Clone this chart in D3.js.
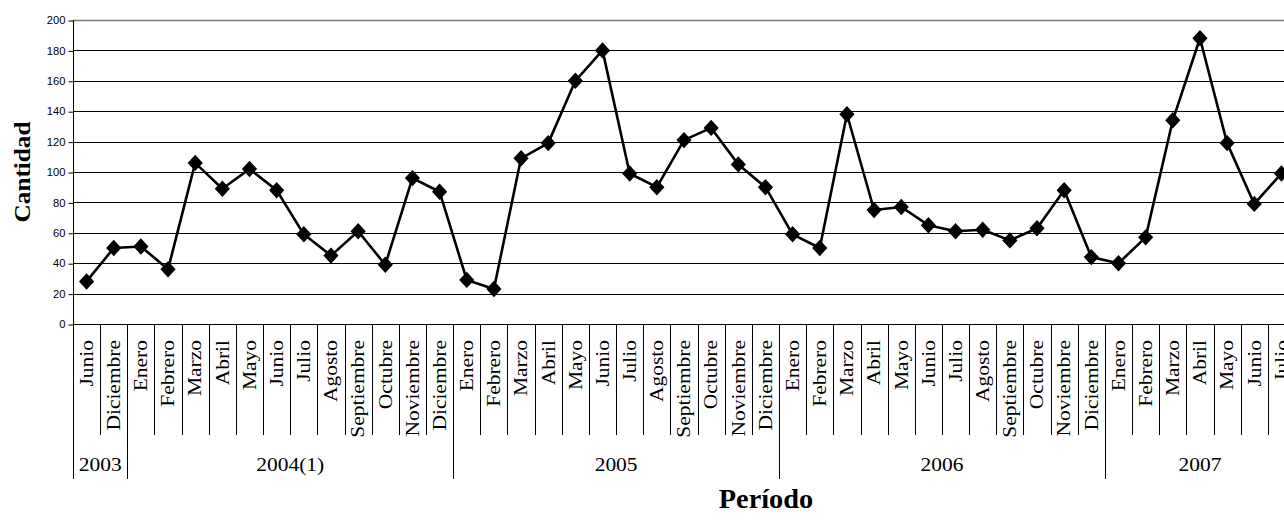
<!DOCTYPE html>
<html>
<head>
<meta charset="utf-8">
<script src="https://cdn.jsdelivr.net/npm/d3@7"></script>
<style>
  html, body { margin: 0; padding: 0; background: #fff; overflow: hidden; }
  svg { display: block; }
</style>
</head>
<body>
<svg id="chart" width="1284" height="523"></svg>
<script>
// ---- data ----
const yearLabels = ["2003", "2004(1)", "2005", "2006", "2007"];
const months2003 = ["Junio", "Diciembre"];
const monthsFull = ["Enero", "Febrero", "Marzo", "Abril", "Mayo", "Junio", "Julio", "Agosto", "Septiembre", "Octubre", "Noviembre", "Diciembre"];
const months2007 = ["Enero", "Febrero", "Marzo", "Abril", "Mayo", "Junio", "Julio"];
const monthsByYear = [months2003, monthsFull, monthsFull, monthsFull, months2007];

const values2003 = [28, 50];
const values2004 = [51, 36, 106, 89, 102, 88, 59, 45, 61, 39, 96, 87];
const values2005 = [29, 23, 109, 119, 160, 180, 99, 90, 121, 129, 105, 90];
const values2006 = [59, 50, 138, 75, 77, 65, 61, 62, 55, 63, 88, 44];
const values2007 = [40, 57, 134, 188, 119, 79, 99];
const valuesByYear = [values2003, values2004, values2005, values2006, values2007];

const yTicks = [0, 20, 40, 60, 80, 100, 120, 140, 160, 180, 200];
const yTitle = "Cantidad";
const xTitle = "Período";

// ---- build flat table ----
const rows = [];
monthsByYear.forEach((ms, yi) => {
  ms.forEach((m, mi) => {
    rows.push({ id: rows.length, year: yearLabels[yi], yi: yi, month: m, value: valuesByYear[yi][mi] });
  });
});

// ---- layout ----
const plotL = 73, plotR = 1295, plotT = 20, plotB = 324;
const svg = d3.select("#chart");
const serif = "'Liberation Serif','Times New Roman',serif";
const sans = "'Liberation Sans',Arial,sans-serif";

const x = d3.scaleBand().domain(rows.map(d => d.id)).range([plotL, plotR]).paddingInner(0).paddingOuter(0);
const y = d3.scaleLinear().domain([0, 200]).range([plotB, plotT]);
const bw = x.bandwidth();

// gridlines
svg.append("g").selectAll("line").data(yTicks.filter(t => t > 0)).join("line")
  .attr("x1", plotL).attr("x2", 1284)
  .attr("y1", d => Math.round(y(d)) + 0.5).attr("y2", d => Math.round(y(d)) + 0.5)
  .attr("stroke", d => d === 200 ? "#777" : "#000")
  .attr("stroke-width", d => d === 200 ? 1.6 : 1);

// y axis
const yAxis = d3.axisLeft(y).tickValues(yTicks).tickSize(5).tickPadding(3);
const gy = svg.append("g").attr("transform", `translate(${plotL + 0.5},0.5)`).call(yAxis);
gy.select(".domain").remove();
gy.selectAll(".tick line").attr("stroke", "#000");
gy.selectAll(".tick text").attr("font-family", sans).attr("font-size", 10).attr("fill", "#000")
  .attr("transform", "scale(1.12,1)").attr("x", -8 / 1.12);

// left axis line (through category area)
svg.append("line").attr("x1", plotL + 0.5).attr("x2", plotL + 0.5).attr("y1", plotT).attr("y2", 479)
  .attr("stroke", "#000").attr("stroke-width", 1);

// x axis baseline
svg.append("line").attr("x1", plotL).attr("x2", 1284).attr("y1", plotB + 0.5).attr("y2", plotB + 0.5)
  .attr("stroke", "#000").attr("stroke-width", 1.2);

// category separators
svg.append("g").selectAll("line").data(rows.slice(1)).join("line")
  .attr("x1", d => Math.round(x(d.id)) + 0.5).attr("x2", d => Math.round(x(d.id)) + 0.5)
  .attr("y1", plotB).attr("y2", d => (d.yi !== rows[d.id - 1].yi) ? 479 : 435)
  .attr("stroke", "#000").attr("stroke-width", 1);

// month labels
svg.append("g").selectAll("text").data(rows).join("text")
  .attr("transform", d => `translate(${x(d.id) + bw / 2},340) rotate(-90) scale(1.13,1)`)
  .attr("text-anchor", "end").attr("dy", "0.33em")
  .attr("font-family", serif).attr("font-size", 19).attr("fill", "#000")
  .text(d => d.month);

// year labels
const yearGroups = yearLabels.map((yl, yi) => {
  const rs = rows.filter(r => r.yi === yi);
  return { label: yl, x0: x(rs[0].id), x1: x(rs[rs.length - 1].id) + bw };
});
svg.append("g").selectAll("text").data(yearGroups).join("text")
  .attr("transform", d => `translate(${(d.x0 + d.x1) / 2},471) scale(1.13,1)`)
  .attr("text-anchor", "middle")
  .attr("font-family", serif).attr("font-size", 19).attr("fill", "#000")
  .text(d => d.label);

// line
const line = d3.line().x(d => x(d.id) + bw / 2).y(d => y(d.value));
svg.append("path").datum(rows).attr("d", line)
  .attr("fill", "none").attr("stroke", "#000").attr("stroke-width", 2.6).attr("stroke-linejoin", "round");

// markers
svg.append("g").selectAll("path").data(rows).join("path")
  .attr("transform", d => `translate(${x(d.id) + bw / 2},${y(d.value)})`)
  .attr("d", "M0,-8.2L7.6,0L0,8.2L-7.6,0Z")
  .attr("fill", "#000");

// axis titles
svg.append("text")
  .attr("transform", `translate(22,${(plotT + plotB) / 2}) rotate(-90) scale(1.05,1)`)
  .attr("text-anchor", "middle").attr("dy", "0.35em")
  .attr("font-family", serif).attr("font-weight", "bold").attr("font-size", 24).attr("fill", "#000")
  .text(yTitle);

svg.append("text")
  .attr("transform", `translate(766,508) scale(1.05,1)`)
  .attr("text-anchor", "middle")
  .attr("font-family", serif).attr("font-weight", "bold").attr("font-size", 27).attr("fill", "#000")
  .text(xTitle);
</script>
</body>
</html>
